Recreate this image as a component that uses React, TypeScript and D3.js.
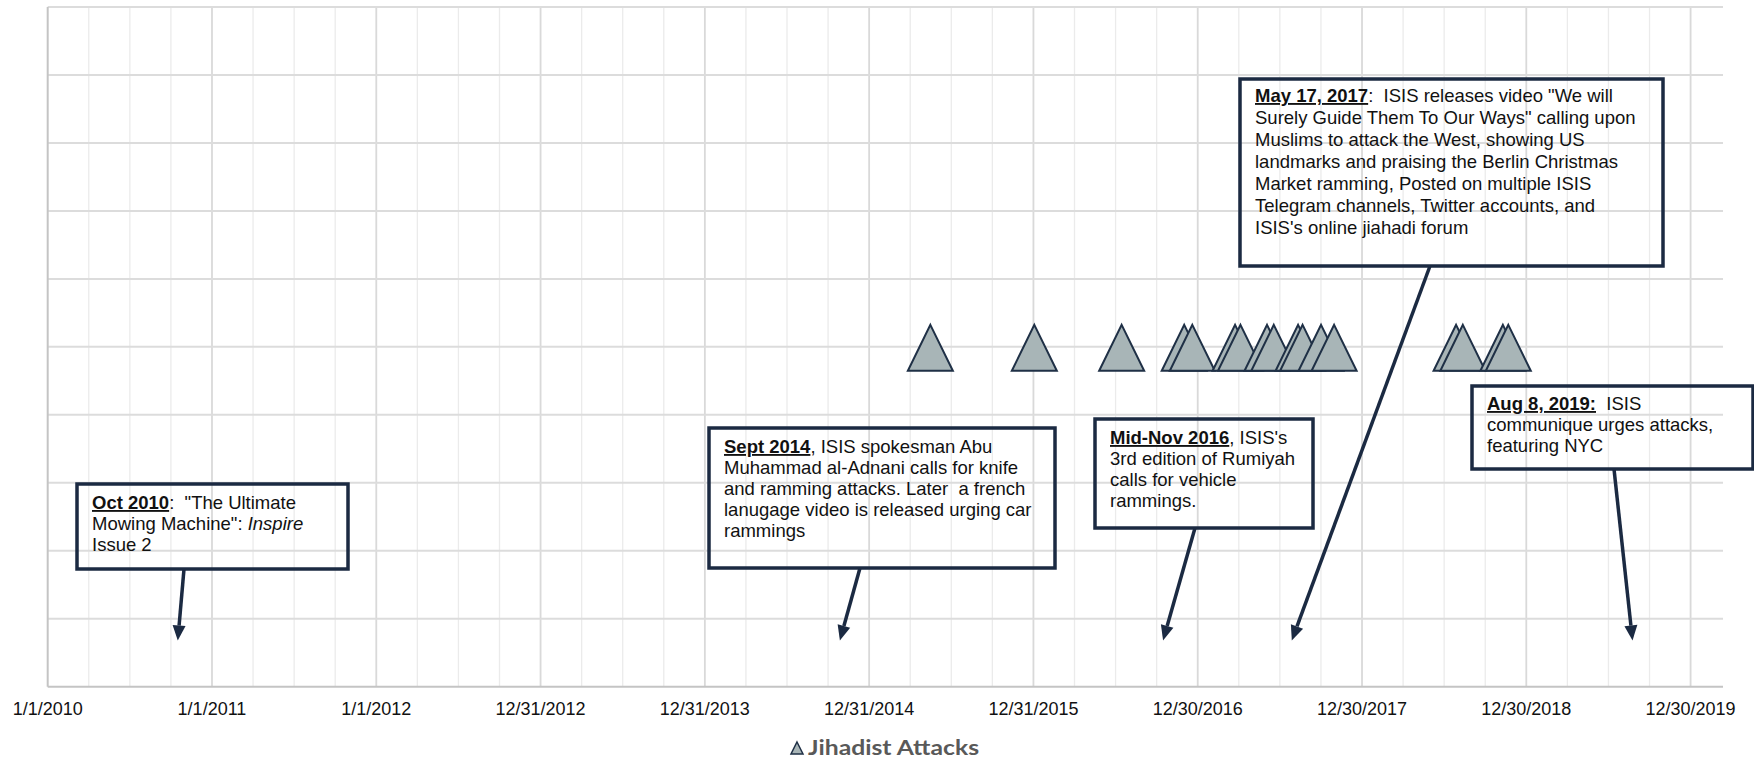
import React from 'react';
import * as d3 from 'd3';

// ---------- data ----------
const tickLabels = [
  '1/1/2010', '1/1/2011', '1/1/2012', '12/31/2012', '12/31/2013', '12/31/2014',
  '12/31/2015', '12/30/2016', '12/30/2017', '12/30/2018', '12/30/2019',
];
const xDomainDates = ['2010-01-01', '2020-03-11'];
const yDomain = [0, 10];
const yGridValues = [0, 1, 2, 3, 4, 5, 6, 7, 8, 9, 10];

const attackDates = [
  '2015-05-16', '2016-01-02', '2016-07-14', '2016-11-30', '2016-12-18',
  '2017-03-23', '2017-04-04', '2017-06-02', '2017-06-17', '2017-08-10',
  '2017-08-20', '2017-09-30', '2017-10-29', '2018-07-27', '2018-08-11',
  '2018-11-08', '2018-11-20',
];
const attackValue = 5;
const legendLabel = 'Jihadist Attacks';

type Seg = { t: string; b?: boolean; u?: boolean; i?: boolean };
const annotationTexts: Seg[][][] = [
  [
    [{ t: 'Oct 2010', b: true, u: true }, { t: ':  "The Ultimate' }],
    [{ t: 'Mowing Machine": ' }, { t: 'Inspire', i: true }],
    [{ t: 'Issue 2' }],
  ],
  [
    [{ t: 'Sept 2014', b: true, u: true }, { t: ', ISIS spokesman Abu' }],
    [{ t: 'Muhammad al-Adnani calls for knife' }],
    [{ t: 'and ramming attacks. Later  a french' }],
    [{ t: 'lanugage video is released urging car' }],
    [{ t: 'rammings' }],
  ],
  [
    [{ t: 'Mid-Nov 2016', b: true, u: true }, { t: ", ISIS's" }],
    [{ t: '3rd edition of Rumiyah' }],
    [{ t: 'calls for vehicle' }],
    [{ t: 'rammings.' }],
  ],
  [
    [{ t: 'May 17, 2017', b: true, u: true }, { t: ':  ISIS releases video "We will' }],
    [{ t: 'Surely Guide Them To Our Ways" calling upon' }],
    [{ t: 'Muslims to attack the West, showing US' }],
    [{ t: 'landmarks and praising the Berlin Christmas' }],
    [{ t: 'Market ramming, Posted on multiple ISIS' }],
    [{ t: 'Telegram channels, Twitter accounts, and' }],
    [{ t: "ISIS's online jiahadi forum" }],
  ],
  [
    [{ t: 'Aug 8, 2019:', b: true, u: true }, { t: '  ISIS' }],
    [{ t: 'communique urges attacks,' }],
    [{ t: 'featuring NYC' }],
  ],
];
const annotationTargetDates = ['2010-10-17', '2014-10-27', '2016-10-14', '2017-07-27', '2019-08-23'];
const annotationTargetValue = 0.68;

// ---------- layout ----------
const W = 1754;
const H = 766;
const plot = { left: 47.7, right: 1723, top: 7, bottom: 686.7 };
const boxLayout = [
  { x: 77, y: 484, w: 271, h: 85, lh: 21, off: 25, ax: 184 },
  { x: 709, y: 428, w: 346, h: 140, lh: 21, off: 25, ax: 860 },
  { x: 1095, y: 419, w: 218, h: 109, lh: 21, off: 25, ax: 1195 },
  { x: 1240, y: 79, w: 423, h: 187, lh: 22, off: 23, ax: 1430 },
  { x: 1472, y: 386, w: 281, h: 83, lh: 21, off: 24, ax: 1614 },
];
const NAVY = '#1b2a42';

const parseISO = d3.utcParse('%Y-%m-%d');
const parseTick = d3.utcParse('%m/%d/%Y');

export default function App() {
  const x = d3
    .scaleUtc()
    .domain(xDomainDates.map((d) => parseISO(d) as Date))
    .range([plot.left, plot.right]);
  const y = d3.scaleLinear().domain(yDomain).range([plot.bottom, plot.top]);

  const tickDates = tickLabels.map((t) => parseTick(t) as Date);
  const minorDates: Date[] = [];
  for (let i = 0; i < tickDates.length - 1; i++) {
    const a = tickDates[i].getTime();
    const b = tickDates[i + 1].getTime();
    for (let k = 1; k < 4; k++) minorDates.push(new Date(a + ((b - a) * k) / 4));
  }

  const triW = 45;
  const triH = 46;
  const triPath = (cx: number, cy: number, w: number, h: number) =>
    `M${cx},${cy - h / 2}L${cx + w / 2},${cy + h / 2}L${cx - w / 2},${cy + h / 2}Z`;

  const font = '"Liberation Sans", Arial, Helvetica, sans-serif';

  return (
    <svg
      width={W}
      height={H}
      viewBox={`0 0 ${W} ${H}`}
      style={{ position: 'absolute', left: 0, top: 0, background: '#fff' }}
    >
      <rect x={0} y={0} width={W} height={H} fill="#fff" />
      {/* minor vertical gridlines */}
      {minorDates.map((d, i) => (
        <line key={'mv' + i} x1={x(d)} x2={x(d)} y1={plot.top} y2={plot.bottom} stroke="#ebebeb" strokeWidth={1.3} />
      ))}
      {/* major vertical gridlines */}
      {tickDates.slice(1).map((d, i) => (
        <line key={'Mv' + i} x1={x(d)} x2={x(d)} y1={plot.top} y2={plot.bottom} stroke="#d9d9d9" strokeWidth={1.8} />
      ))}
      {/* horizontal gridlines */}
      {yGridValues.slice(1).map((v) => (
        <line key={'h' + v} x1={plot.left} x2={plot.right} y1={y(v)} y2={y(v)} stroke="#dcdcdc" strokeWidth={2} />
      ))}
      {/* axes */}
      <line x1={plot.left} x2={plot.left} y1={plot.top} y2={plot.bottom} stroke="#c4c4c4" strokeWidth={2} />
      <line x1={plot.left} x2={plot.right} y1={y(0)} y2={y(0)} stroke="#c4c4c4" strokeWidth={2} />
      {/* tick labels */}
      {tickDates.map((d, i) => (
        <text key={'tl' + i} x={x(d)} y={715} textAnchor="middle" fontFamily={font} fontSize={18} fill="#111">
          {tickLabels[i]}
        </text>
      ))}
      {/* attacks */}
      {attackDates.map((d, i) => (
        <path
          key={'a' + i}
          d={triPath(x(parseISO(d) as Date), y(attackValue) + 1, triW, triH)}
          fill="#a8b5b7"
          stroke="#1f3046"
          strokeWidth={2}
          strokeLinejoin="miter"
        />
      ))}
      {/* annotations */}
      {annotationTexts.map((lines, i) => {
        const L = boxLayout[i];
        const tx = x(parseISO(annotationTargetDates[i]) as Date);
        const ty = y(annotationTargetValue);
        const sx = L.ax;
        const sy = L.y + L.h;
        const ang = Math.atan2(ty - sy, tx - sx);
        const headLen = 15;
        const headW = 13;
        const bx = tx - headLen * Math.cos(ang);
        const by = ty - headLen * Math.sin(ang);
        const px = -Math.sin(ang) * (headW / 2);
        const py = Math.cos(ang) * (headW / 2);
        return (
          <g key={'an' + i}>
            <line x1={sx} y1={sy} x2={bx} y2={by} stroke={NAVY} strokeWidth={3.5} />
            <path d={`M${tx},${ty}L${bx + px},${by + py}L${bx - px},${by - py}Z`} fill={NAVY} />
            <rect x={L.x} y={L.y} width={L.w} height={L.h} fill="none" stroke={NAVY} strokeWidth={3.5} />
            {lines.map((segs, j) => (
              <text
                key={j}
                x={L.x + 15}
                y={L.y + L.off + j * L.lh}
                fontFamily={font}
                fontSize={18.5}
                fill="#111"
                xmlSpace="preserve"
                style={{ whiteSpace: 'pre' }}
              >
                {segs.map((s, k) => (
                  <tspan
                    key={k}
                    fontWeight={s.b ? 'bold' : 'normal'}
                    fontStyle={s.i ? 'italic' : 'normal'}
                    style={s.u ? { textDecoration: 'underline' } : undefined}
                  >
                    {s.t}
                  </tspan>
                ))}
              </text>
            ))}
          </g>
        );
      })}
      {/* legend */}
      <path d={triPath(797, 748, 12, 12)} fill="#a8b5b7" stroke="#1f3046" strokeWidth={1.5} />
      <text
        x={808}
        y={755}
        fontFamily='Lato, "Open Sans", sans-serif'
        fontWeight="bold"
        fontSize={21}
        fill="#595959"
        textLength={171}
        lengthAdjust="spacingAndGlyphs"
      >
        {legendLabel}
      </text>
    </svg>
  );
}
